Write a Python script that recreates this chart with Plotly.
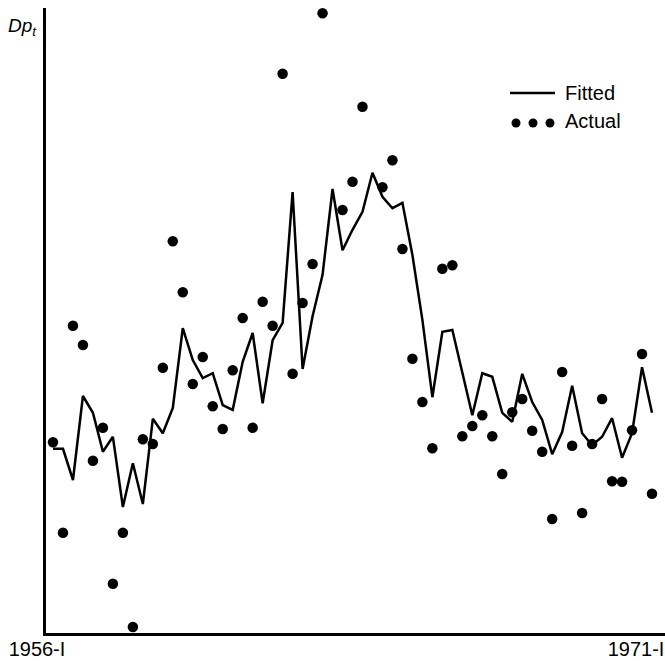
import plotly.graph_objects as go

# Quarterly periods, 1956-I through 1971-I
years = list(range(1956, 1972))
roman = ["I", "II", "III", "IV"]
quarters = [f"{y}-{q}" for y in years for q in roman][:61]
period = list(range(len(quarters)))

# Fitted values of Dp_t
fitted = [
    3.07, 3.07, 2.55, 3.95, 3.67, 3.02, 3.27, 2.10, 2.83, 2.15,
    3.57, 3.33, 3.75, 5.08, 4.55, 4.25, 4.33, 3.80, 3.72, 4.52,
    5.00, 3.83, 4.88, 5.17, 7.35, 4.40, 5.28, 5.97, 7.40, 6.38,
    6.72, 7.02, 7.67, 7.27, 7.08, 7.17, 6.30, 5.22, 3.93, 5.02,
    5.05, 4.33, 3.63, 4.33, 4.27, 3.67, 3.52, 4.32, 3.85, 3.55,
    2.98, 3.35, 4.12, 3.33, 3.13, 3.27, 3.58, 2.92, 3.33, 4.43,
    3.67,
]

# Actual values of Dp_t (None where no observation is plotted)
actual = [
    3.18, 1.67, 5.12, 4.80, 2.87, 3.42, 0.82, 1.67, 0.10, 3.23,
    3.15, 4.42, 6.53, 5.68, 4.15, 4.60, 3.78, 3.40, 4.38, 5.25,
    3.42, 5.52, 5.12, 9.32, 4.32, 5.50, 6.15, 10.33, None, 7.05,
    7.52, 8.77, None, 7.43, 7.88, 6.40, 4.57, 3.85, 3.08, 6.07,
    6.13, 3.28, 3.45, 3.63, 3.28, 2.65, 3.68, 3.90, 3.37, 3.02,
    1.90, 4.35, 3.12, 2.00, 3.15, 3.90, 2.53, 2.52, 3.38, 4.65,
    2.32,
]

tick_positions = [0, 60]
tick_labels = ["1956-I", "1971-I"]

FONT = "Liberation Sans, Arial, sans-serif"

fig = go.Figure()
fig.add_trace(go.Scatter(
    x=period, y=fitted, mode="lines", name="Fitted",
    line=dict(color="black", width=2.5),
    text=quarters, hoverinfo="text+y",
))
fig.add_trace(go.Scatter(
    x=period, y=actual, mode="markers", name="Actual",
    marker=dict(color="black", size=10.5, line=dict(width=0)),
    text=quarters, hoverinfo="text+y", cliponaxis=False,
))

fig.update_layout(
    width=665, height=661,
    margin=dict(l=46, r=0, t=8, b=28),
    paper_bgcolor="white", plot_bgcolor="white",
    showlegend=False,
    font=dict(family=FONT, color="black"),
)
fig.update_xaxes(
    range=[-0.70, 61.30], showgrid=False, zeroline=False, automargin=False,
    showline=True, linecolor="black", linewidth=2.5,
    tickmode="array", tickvals=tick_positions, ticktext=tick_labels,
    ticks="", tickfont=dict(family=FONT, size=20, color="black"),
    ticklabelshift=-16, ticklabelstandoff=-4,
)
fig.update_yaxes(
    range=[0, 10.417], showgrid=False, zeroline=False, automargin=False,
    showline=True, linecolor="black", linewidth=2.5,
    showticklabels=False, ticks="",
)

# Axis title at the top of the vertical axis
fig.add_annotation(
    xref="paper", yref="paper", x=-0.0113, y=0.97,
    xanchor="right", yanchor="middle", showarrow=False,
    text="<i>Dp</i><sub><i>t</i></sub>",
    font=dict(family=FONT, size=19, color="black"),
)

# Key: solid line for fitted, three dots for actual
fig.add_shape(type="line", xref="paper", yref="paper",
              x0=0.7496, x1=0.8223, y0=0.864, y1=0.864,
              line=dict(color="black", width=2.5))
for xa in [0.7593, 0.7868, 0.8142]:
    fig.add_shape(type="circle", xref="paper", yref="paper",
                  xsizemode="pixel", ysizemode="pixel",
                  xanchor=xa, yanchor=0.816,
                  x0=-4.5, x1=4.5, y0=-4.5, y1=4.5,
                  fillcolor="black", line=dict(width=0))
fig.add_annotation(xref="paper", yref="paper", x=0.836, y=0.864,
                   xanchor="left", yanchor="middle", showarrow=False,
                   text="Fitted", font=dict(family=FONT, size=20, color="black"))
fig.add_annotation(xref="paper", yref="paper", x=0.836, y=0.8192,
                   xanchor="left", yanchor="middle", showarrow=False,
                   text="Actual", font=dict(family=FONT, size=20, color="black"))

fig.write_html("out.html")
